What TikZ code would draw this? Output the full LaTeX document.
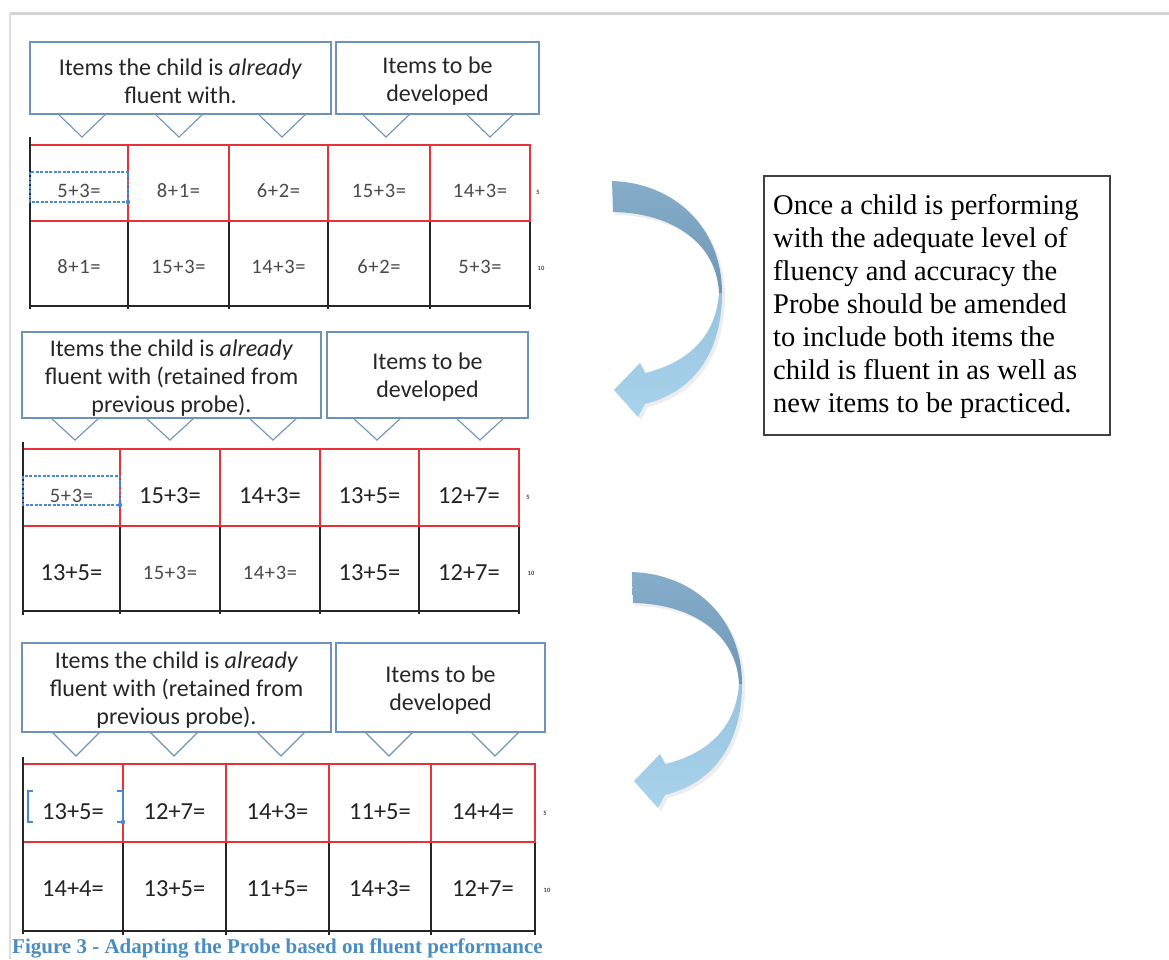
\documentclass[tikz,border=0pt]{standalone}
\usepackage{fontspec}
\setmainfont{Liberation Serif}
\newfontfamily\carl{Carlito}
\newfontfamily\carlw[LetterSpace=3]{Carlito}
\newfontfamily\tms{Liberation Serif}
\definecolor{cblue}{HTML}{6D93BB}
\definecolor{rline}{HTML}{E5323B}
\definecolor{sblue}{HTML}{4A87D8}
\definecolor{adarkA}{HTML}{86AECB}
\definecolor{adarkB}{HTML}{6E97B5}
\definecolor{alightA}{HTML}{97C3DE}
\definecolor{alightB}{HTML}{A9D3EC}
\definecolor{capblue}{HTML}{4A8DC0}
\definecolor{framegray}{HTML}{D5D5D5}
\definecolor{smallgray}{HTML}{4A4A4A}
\definecolor{bigtxt}{HTML}{232323}
\tikzset{
 cbox/.style={draw=cblue, line width=1.1pt, fill=white, inner sep=0pt},
 vptr/.style={draw=cblue, line width=1.1pt},
 ctext/.style={font=\carl\fontsize{24}{28}\selectfont, align=center, inner sep=0pt, text=black!85},
 smallnum/.style={font=\carlw\fontsize{20.5}{22}\selectfont, text=smallgray, inner sep=0pt},
 bignum/.style={font=\carl\fontsize{24.5}{27}\selectfont, text=bigtxt, inner sep=0pt},
 tinylab/.style={font=\carl\bfseries\fontsize{6.5}{7}\selectfont, text=smallgray, inner sep=0pt},
 blk/.style={draw=black!85, line width=1.4pt},
 blkb/.style={draw=black!85, line width=2pt},
 leftbar/.style={draw=black!85, line width=2.6pt},
 redl/.style={draw=rline, line width=1.3pt},
 selbox/.style={draw=sblue, line width=1.1pt, dash pattern=on 3pt off 1.5pt},
 selmark/.style={draw=sblue, line width=1.2pt},
 tbox/.style={draw=black!75, line width=1.3pt, inner sep=0pt},
}
\newcommand\probearrow{%
 \fill[black, opacity=0.07] (614,184) .. controls (677,186) and (725,231) .. (725,296) .. controls (725,348) and (703,393) .. (648,407) -- (641,420) -- (617,393) -- (643,366) -- (648,376) .. controls (693,365) and (719,338) .. (722,296) .. controls (720,248) and (678,216) .. (615,215) -- cycle;
 \shade[top color=adarkA, bottom color=adarkB] (612,181) .. controls (675,183) and (722,228) .. (722,293) -- (719,293) .. controls (717,245) and (675,213) .. (613,212) -- cycle;
 \shade[top color=alightA, bottom color=alightB] (722,293) .. controls (722,345) and (700,390) .. (645,404) -- (638,417) -- (614,390) -- (640,363) -- (645,373) .. controls (690,362) and (716,335) .. (719,293) -- cycle;
}
\begin{document}
\begin{tikzpicture}[x=1pt,y=-1pt]
\useasboundingbox (0,0) rectangle (1169,959);
\clip (0,0) rectangle (1169,959);
\fill[white] (0,0) rectangle (1169,959);
% page frame
\draw[framegray, line width=3pt] (10,13) -- (1169,13);
\draw[framegray!80, line width=1.6pt] (10,13) -- (10,959);

% ================= Probe 1 =================
\node[cbox, minimum width=301pt, minimum height=72pt] (c1l) at (180.5,78) {};
\node[cbox, minimum width=203pt, minimum height=72pt] (c1r) at (437.5,78) {};
\foreach \cx in {82,179,282,386,490} \draw[vptr] (\cx-24,114) -- (\cx,137) -- (\cx+24,114);
\node[ctext] (c1lt) at (180.5,81) {Items the child is \textit{already}\\fluent with.};
\node[ctext] (c1rt) at (437.5,81.5) {Items to be\\developed};
\foreach \x in {128,229,328,430,530} \draw[blk] (\x,221) -- (\x,309);
\draw[blkb] (30,306) -- (531,306);
\draw[redl] (30,145) rectangle (530,221);
\foreach \x in {128,229,328,430} \draw[redl] (\x,145) -- (\x,221);
\draw[leftbar] (30,137) -- (30,309);
\draw[selbox] (30,172) rectangle (128,202);
\fill[sblue] (128,202) circle (2.3);
\foreach \xx/\t [count=\i] in {79/5+3=,178.5/8+1=,278.5/6+2=,379/15+3=,480/14+3=}
  \node[smallnum] (p1a\i) at (\xx,191) {\t};
\foreach \xx/\t [count=\i] in {79/8+1=,178.5/15+3=,278.5/14+3=,379/6+2=,480/5+3=}
  \node[smallnum] (p1b\i) at (\xx,267) {\t};
\node[tinylab] (p1s) at (538,192) {5};
\node[tinylab] (p1t) at (541,268) {10};

% ================= Probe 2 =================
\node[cbox, minimum width=299pt, minimum height=86pt] (c2l) at (171.5,375) {};
\node[cbox, minimum width=201pt, minimum height=86pt] (c2r) at (427.5,375) {};
\foreach \cx in {75,170,273,377,480} \draw[vptr] (\cx-24,418) -- (\cx,440) -- (\cx+24,418);
\node[ctext] (c2lt) at (171.5,378) {Items the child is \textit{already}\\fluent with (retained from\\previous probe).};
\node[ctext] (c2rt) at (427.5,377.5) {Items to be\\developed};
\foreach \x in {120,220,320,419,519} \draw[blk] (\x,526) -- (\x,614);
\draw[blkb] (23,611) -- (520,611);
\draw[redl] (23,449) rectangle (519,526);
\foreach \x in {120,220,320,419} \draw[redl] (\x,449) -- (\x,526);
\draw[leftbar] (23,442) -- (23,615);
\draw[selbox] (23,476) rectangle (120,505);
\fill[sblue] (120,505) circle (2.3);
\foreach \xx/\t/\st [count=\i] in {71.5/5+3=/smallnum,170/15+3=/bignum,270/14+3=/bignum,369.5/13+5=/bignum,469/12+7=/bignum}
  \node[\st] (p2a\i) at (\xx,496) {\t};
\foreach \xx/\t/\st [count=\i] in {71.5/13+5=/bignum,170/15+3=/smallnum,270/14+3=/smallnum,369.5/13+5=/bignum,469/12+7=/bignum}
  \node[\st] (p2b\i) at (\xx,573) {\t};
\node[tinylab] (p2s) at (528,497) {5};
\node[tinylab] (p2t) at (531,573) {10};

% ================= Probe 3 =================
\node[cbox, minimum width=309pt, minimum height=89pt] (c3l) at (176.5,687.5) {};
\node[cbox, minimum width=209pt, minimum height=89pt] (c3r) at (440.5,687.5) {};
\foreach \cx in {76,174,281,389,495} \draw[vptr] (\cx-24,732) -- (\cx,756) -- (\cx+24,732);
\node[ctext] (c3lt) at (176.5,690) {Items the child is \textit{already}\\fluent with (retained from\\previous probe).};
\node[ctext] (c3rt) at (440.5,690.5) {Items to be\\developed};
\foreach \x in {123,226,329,431,535} \draw[blk] (\x,842) -- (\x,935);
\draw[blkb] (23,931) -- (536,931);
\draw[redl] (23,764) rectangle (535,842);
\foreach \x in {123,226,329,431} \draw[redl] (\x,764) -- (\x,842);
\draw[leftbar] (23,757) -- (23,934);
\draw[selmark] (33,791) -- (28,791) -- (28,822) -- (33,822);
\draw[selmark] (117,791) -- (123,791) -- (123,822) -- (117,822);
\fill[sblue] (123,822) circle (2.3);
\foreach \xx/\t [count=\i] in {73/13+5=,174.5/12+7=,277.5/14+3=,380/11+5=,483/14+4=}
  \node[bignum] (p3a\i) at (\xx,812) {\t};
\foreach \xx/\t [count=\i] in {73/14+4=,174.5/13+5=,277.5/11+5=,380/14+3=,483/12+7=}
  \node[bignum] (p3b\i) at (\xx,889) {\t};
\node[tinylab] (p3s) at (545,813) {5};
\node[tinylab] (p3t) at (547,890) {10};

% ================= curved arrows =================
\probearrow
\begin{scope}[shift={(20,391)}]
\probearrow
\end{scope}

% ================= note box =================
\node[tbox, minimum width=346pt, minimum height=259pt] (note) at (937,305.5) {};
\node[anchor=west, align=left, font=\tms\fontsize{28.5}{33}\selectfont, inner sep=0pt] (notetext) at (773,306) {Once a child is performing\\with the adequate level of\\fluency and accuracy the\\Probe should be amended\\to include both items the\\child is fluent in as well as\\new items to be practiced.};

% ================= caption =================
\node[anchor=base west, font=\tms\bfseries\fontsize{21}{24}\selectfont, text=capblue, inner sep=0pt] (cap) at (12,953.5) {Figure 3 - Adapting the Probe based on fluent performance};
\end{tikzpicture}
\end{document}
